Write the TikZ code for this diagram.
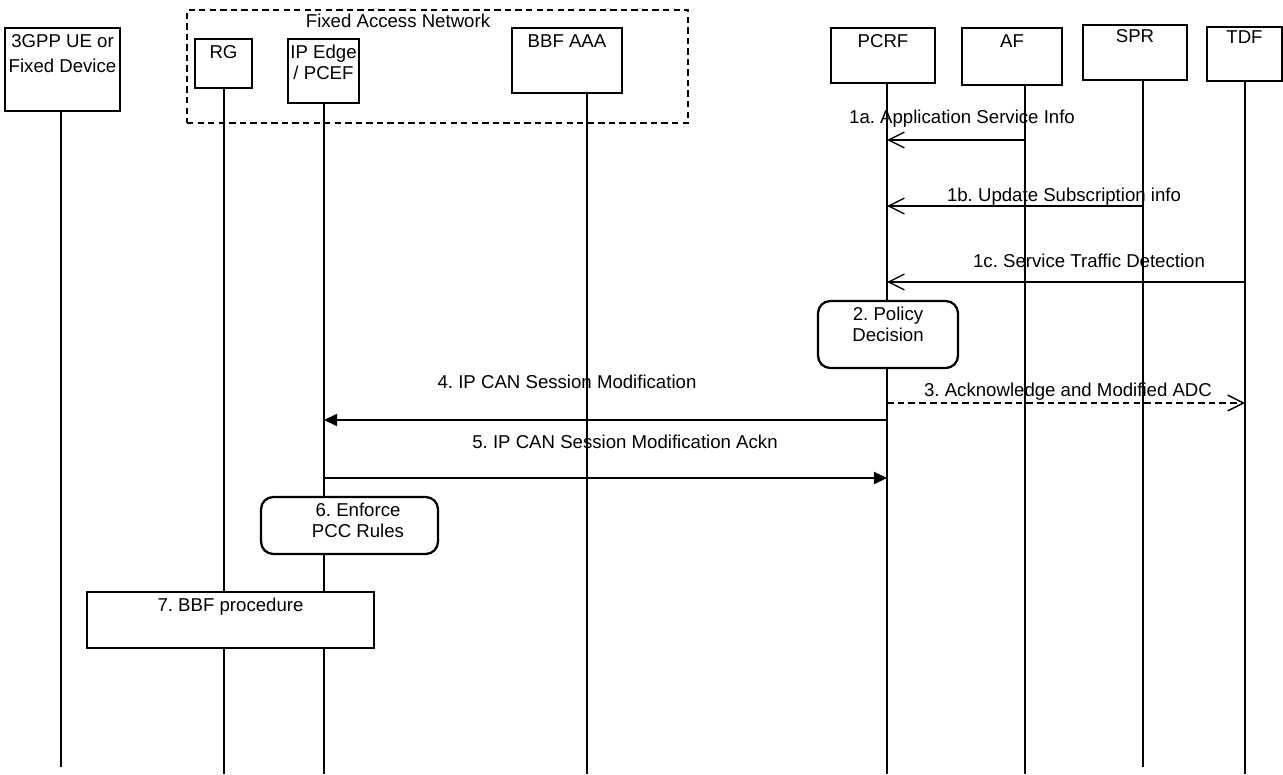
\documentclass[tikz,border=0pt]{standalone}
\usepackage{fontspec}
\setmainfont{Liberation Sans}
\usetikzlibrary{arrows.meta}
\frenchspacing

\begin{document}
\begin{tikzpicture}[x=0.02cm, y=-0.02cm,
    font=\fontsize{10.6}{12}\selectfont,
    entity/.style={draw, line width=0.7pt, fill=white, inner sep=0pt},
    group/.style={draw, line width=0.7pt, dash pattern=on 3.6pt off 2.4pt, inner sep=0pt},
    boxText/.style={anchor=north, align=center, inner sep=3.8pt},
    action/.style={draw, line width=1.3pt, rounded corners=7pt, fill=white, inner sep=0pt},
    lifeline/.style={line width=0.6pt},
    msgLabel/.style={anchor=base, inner sep=0pt},
    request/.style={line width=0.8pt, -{Straight Barb[length=9pt, width=9pt]}},
    answer/.style={line width=0.8pt, -{Triangle[length=7.5pt, width=7pt]}},
  ]
    \useasboundingbox (0,0) rectangle (1283,774);

    \node[group, minimum width=10.02cm, minimum height=2.26cm] (fan) at (437.5,66.5) {};
    \node[msgLabel] (fan_txt) at (398,28) {Fixed Access Network};

    \node[entity, minimum width=2.3cm, minimum height=1.66cm] (ue) at (62.5,69.5) {};
    \node[entity, minimum width=1.14cm, minimum height=0.98cm] (rg) at (223.5,63.5) {};
    \node[entity, minimum width=1.42cm, minimum height=1.28cm] (ipedge) at (323.5,71) {};
    \node[entity, minimum width=2.2cm, minimum height=1.3cm] (bbfaaa) at (567,60.5) {};
    \node[entity, minimum width=2.08cm, minimum height=1.1cm] (pcrf) at (883,55.5) {};
    \node[entity, minimum width=2.0cm, minimum height=1.14cm] (af) at (1012,56.5) {};
    \node[entity, minimum width=2.08cm, minimum height=1.1cm] (spr) at (1135,52.5) {};
    \node[entity, minimum width=1.5cm, minimum height=1.08cm] (tdf) at (1244.5,54) {};

    \node[boxText] (ue_txt) at (ue.north) {3GPP UE or\\[2pt]Fixed Device};
    \node[boxText] (rg_txt) at (rg.north) {RG};
    \node[boxText] (ipedge_txt) at (ipedge.north) {IP Edge\\/ PCEF};
    \node[boxText] (bbfaaa_txt) at (bbfaaa.north) {BBF AAA};
    \node[boxText] (pcrf_txt) at (pcrf.north) {PCRF};
    \node[boxText] (af_txt) at (af.north) {AF};
    \node[boxText, inner sep=2.5pt] (spr_txt) at (spr.north) {SPR};
    \node[boxText, inner sep=2.5pt] (tdf_txt) at (tdf.north) {TDF};

    % lifelines
    \coordinate (ue_end) at (61,767);
    \coordinate (rg_end) at (224,774);
    \coordinate (ipedge_end) at (324,774);
    \coordinate (bbfaaa_end) at (587,774);
    \coordinate (pcrf_end) at (887,774);
    \coordinate (af_end) at (1025,774);
    \coordinate (spr_end) at (1143,767);
    \coordinate (tdf_end) at (1245,774);

    \foreach \name in {ue, rg, ipedge, bbfaaa, pcrf, af, spr, tdf}
      \draw[lifeline] (\name.south -| \name_end) -- (\name_end);

    % message levels
    \coordinate (m1a) at (0,140);
    \coordinate (m1b) at (0,206);
    \coordinate (m1c) at (0,282);
    \coordinate (m3) at (0,403);
    \coordinate (m4) at (0,420);
    \coordinate (m5) at (0,478);

    \path[request] (af_end |- m1a) edge (pcrf_end |- m1a);
    \path[request] (spr_end |- m1b) edge (pcrf_end |- m1b);
    \path[request] (tdf_end |- m1c) edge (pcrf_end |- m1c);
    \path[request, dash pattern=on 3.8pt off 2.3pt] (pcrf_end |- m3) edge (tdf_end |- m3);
    \path[answer] (pcrf_end |- m4) edge (ipedge_end |- m4);
    \path[answer] (ipedge_end |- m5) edge (pcrf_end |- m5);

    \node[msgLabel] (lbl_1a) at (962,123) {1a. Application Service Info};
    \node[msgLabel] (lbl_1b) at (1064,201) {1b. Update Subscription info};
    \node[msgLabel] (lbl_1c) at (1089,267) {1c. Service Traffic Detection};
    \node[msgLabel] (lbl_3) at (1068,396) {3. Acknowledge and Modified ADC};
    \node[msgLabel] (lbl_4) at (567,388) {4. IP CAN Session Modification};
    \node[msgLabel] (lbl_5) at (625,448) {5. IP CAN Session Modification Ackn};

    % local steps
    \node[action, minimum width=2.8cm, minimum height=1.34cm] (policy) at (888,334.5) {};
    \node[boxText] (policy_txt) at (policy.north) {2. Policy\\Decision};
    \node[action, minimum width=3.54cm, minimum height=1.14cm] (enforce) at (349.5,525.5) {};
    \node[boxText, xshift=0.17cm] (enforce_txt) at (enforce.north) {6. Enforce\\PCC Rules};
    \node[entity, minimum width=5.74cm, minimum height=1.12cm] (bbfproc) at (230.5,620) {};
    \node[boxText] (bbfproc_txt) at (bbfproc.north) {7. BBF procedure};
\end{tikzpicture}
\end{document}
